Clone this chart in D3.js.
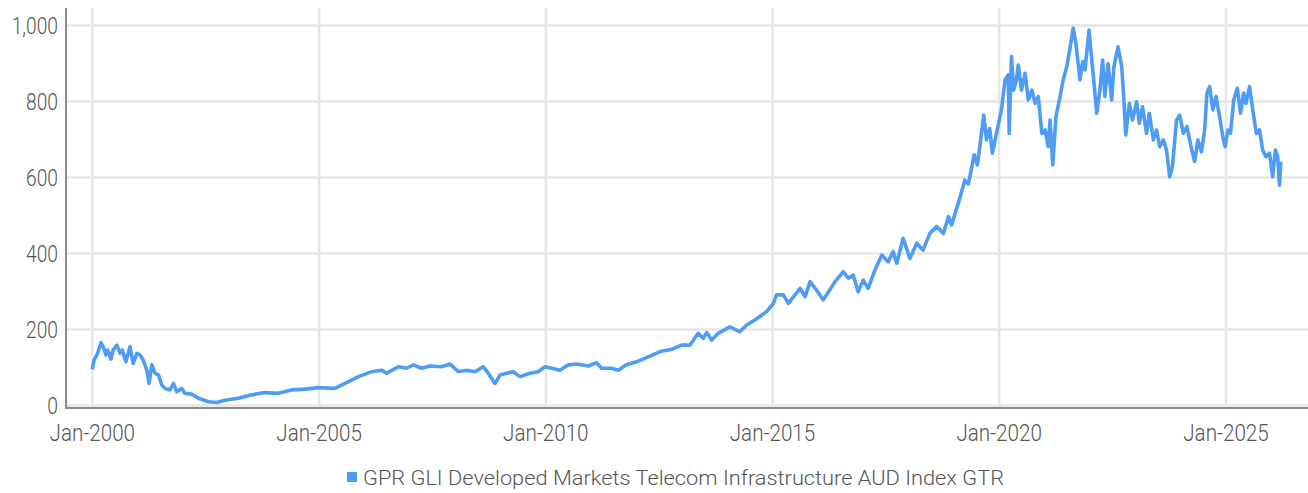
<!DOCTYPE html>
<html>
<head>
<meta charset="utf-8">
<script src="https://cdn.jsdelivr.net/npm/d3@7"></script>
<style>
  body { margin: 0; background: #fff; }
  svg text { font-family: Roboto, "DejaVu Sans Condensed", sans-serif; font-weight: 300; fill: #555; }
</style>
</head>
<body>
<div id="chart"></div>
<script>
// decimal years
const years = [
  2000.00, 2000.04, 2000.12, 2000.19, 2000.24, 2000.30, 2000.34, 2000.41, 2000.46, 2000.54,
  2000.61, 2000.66, 2000.74, 2000.83, 2000.90, 2000.98, 2001.05, 2001.12, 2001.20, 2001.25,
  2001.31, 2001.38, 2001.46, 2001.53, 2001.60, 2001.71, 2001.79, 2001.86, 2001.97, 2002.04,
  2002.19, 2002.34, 2002.56, 2002.74, 2002.93, 2003.22, 2003.51, 2003.81, 2004.10, 2004.40,
  2004.69, 2004.98, 2005.35, 2005.65, 2005.87, 2006.16, 2006.38, 2006.49, 2006.75, 2006.93,
  2007.08, 2007.26, 2007.45, 2007.70, 2007.89, 2008.07, 2008.26, 2008.44, 2008.62, 2008.73,
  2008.88, 2008.99, 2009.14, 2009.28, 2009.43, 2009.65, 2009.83, 2009.98, 2010.13, 2010.31,
  2010.50, 2010.68, 2010.94, 2011.12, 2011.23, 2011.45, 2011.60, 2011.78, 2012.00, 2012.26,
  2012.52, 2012.78, 2013.00, 2013.18, 2013.36, 2013.47, 2013.55, 2013.66, 2013.80, 2014.06,
  2014.28, 2014.43, 2014.61, 2014.87, 2015.02, 2015.09, 2015.24, 2015.35, 2015.61, 2015.72,
  2015.83, 2015.97, 2016.12, 2016.38, 2016.56, 2016.67, 2016.78, 2016.89, 2017.00, 2017.11,
  2017.26, 2017.41, 2017.55, 2017.66, 2017.74, 2017.88, 2018.03, 2018.18, 2018.32, 2018.47,
  2018.62, 2018.77, 2018.88, 2018.95, 2019.13, 2019.24, 2019.32, 2019.45, 2019.52, 2019.66,
  2019.72, 2019.79, 2019.85, 2019.94, 2020.05, 2020.13, 2020.20, 2020.22, 2020.27, 2020.32,
  2020.38, 2020.42, 2020.49, 2020.57, 2020.64, 2020.72, 2020.79, 2020.86, 2020.94, 2021.01,
  2021.08, 2021.12, 2021.18, 2021.25, 2021.34, 2021.41, 2021.49, 2021.56, 2021.63, 2021.69,
  2021.78, 2021.84, 2021.89, 2021.98, 2022.04, 2022.09, 2022.15, 2022.22, 2022.28, 2022.33,
  2022.40, 2022.48, 2022.53, 2022.62, 2022.70, 2022.75, 2022.79, 2022.87, 2022.94, 2023.03,
  2023.09, 2023.16, 2023.25, 2023.31, 2023.40, 2023.47, 2023.54, 2023.62, 2023.69, 2023.76,
  2023.82, 2023.91, 2023.98, 2024.06, 2024.14, 2024.23, 2024.31, 2024.38, 2024.46, 2024.53,
  2024.58, 2024.64, 2024.71, 2024.78, 2024.86, 2024.93, 2024.98, 2025.04, 2025.10, 2025.17,
  2025.25, 2025.32, 2025.39, 2025.44, 2025.52, 2025.59, 2025.67, 2025.74, 2025.81, 2025.88,
  2025.96, 2026.03, 2026.09, 2026.14, 2026.18, 2026.21
];

const values = [
  95, 120, 138, 165, 155, 133, 146, 122, 146, 159,
  138, 146, 115, 155, 111, 137, 133, 120, 93, 58,
  107, 85, 80, 54, 45, 41, 58, 36, 45, 32,
  30, 19, 10, 8, 14, 19, 28, 34, 32, 41,
  43, 47, 45, 63, 76, 89, 93, 85, 102, 98,
  107, 98, 104, 102, 109, 89, 93, 89, 102, 85,
  58, 80, 85, 89, 76, 85, 89, 102, 98, 93,
  107, 109, 104, 113, 98, 98, 93, 107, 115, 128,
  142, 148, 159, 159, 190, 177, 192, 172, 190, 207,
  194, 212, 225, 247, 269, 291, 291, 269, 308, 286,
  326, 304, 278, 326, 352, 335, 343, 299, 330, 308,
  357, 396, 378, 405, 374, 440, 387, 427, 409, 453,
  471, 453, 497, 475, 545, 593, 583, 660, 633, 764,
  699, 729, 664, 716, 778, 857, 870, 716, 918, 830,
  857, 896, 830, 874, 804, 830, 795, 813, 716, 725,
  681, 751, 633, 760, 813, 857, 892, 940, 993, 953,
  857, 905, 883, 988, 909, 848, 769, 830, 909, 813,
  900, 804, 892, 944, 892, 804, 712, 795, 751, 799,
  743, 786, 716, 769, 699, 725, 681, 699, 672, 602,
  628, 751, 764, 716, 734, 681, 642, 699, 668, 725,
  822, 839, 778, 813, 760, 707, 681, 725, 716, 804,
  835, 769, 822, 795, 839, 778, 716, 725, 672, 655,
  664, 602, 672, 655, 580, 642
];

const yTicks = [0, 200, 400, 600, 800, 1000];
const xTickYears = [2000, 2005, 2010, 2015, 2020, 2025];
const seriesName = "GPR GLI Developed Markets Telecom Infrastructure AUD Index GTR";

const width = 1308, height = 493;
const margin = {left: 66, right: 1308, top: 8, bottom: 408};

function toDate(y) {
  const yr = Math.floor(y);
  const start = Date.UTC(yr, 0, 1), end = Date.UTC(yr + 1, 0, 1);
  return new Date(start + (y - yr) * (end - start));
}

// squeeze text horizontally, the reference uses a condensed face
function condense(sel, k) {
  sel.each(function() {
    const w = this.getComputedTextLength();
    d3.select(this).attr("textLength", w * k).attr("lengthAdjust", "spacingAndGlyphs");
  });
}

const data = years.map((y, i) => ({date: toDate(y), value: values[i]}));

const svg = d3.select("#chart")
  .append("svg")
  .attr("width", width)
  .attr("height", height);

const x = d3.scaleUtc()
  .domain([toDate(2000), toDate(2025)])
  .range([92.3, 1226]);
const y = d3.scaleLinear().domain([0, 1000]).range([405.5, 25.5]);

// gridlines
svg.append("g")
  .selectAll("line")
  .data(xTickYears)
  .join("line")
  .attr("x1", d => x(toDate(d))).attr("x2", d => x(toDate(d)))
  .attr("y1", margin.top).attr("y2", margin.bottom)
  .attr("stroke", "#e6e6e6").attr("stroke-width", 2.5);

svg.append("g")
  .selectAll("line")
  .data(yTicks)
  .join("line")
  .attr("x1", margin.left).attr("x2", margin.right)
  .attr("y1", d => y(d)).attr("y2", d => y(d))
  .attr("stroke", "#e6e6e6").attr("stroke-width", 2.5);

// series
svg.append("path")
  .datum(data)
  .attr("fill", "none")
  .attr("stroke", "#4f9cf5")
  .attr("stroke-width", 3.6)
  .attr("stroke-linejoin", "round")
  .attr("d", d3.line().x(d => x(d.date)).y(d => y(d.value)));

// axis lines
svg.append("line")
  .attr("x1", margin.left).attr("x2", margin.left)
  .attr("y1", margin.top).attr("y2", margin.bottom + 1)
  .attr("stroke", "#8a8a8a").attr("stroke-width", 2);
svg.append("line")
  .attr("x1", margin.left).attr("x2", margin.right)
  .attr("y1", margin.bottom).attr("y2", margin.bottom)
  .attr("stroke", "#8a8a8a").attr("stroke-width", 2);

// tick labels
const fmt = d3.format(",");
svg.append("g")
  .selectAll("text")
  .data(yTicks)
  .join("text")
  .attr("x", 58)
  .attr("y", d => y(d))
  .attr("dy", "0.35em")
  .attr("text-anchor", "end")
  .attr("font-size", 24)
  .text(d => fmt(d))
  .call(condense, 0.8);

svg.append("g")
  .selectAll("text")
  .data(xTickYears)
  .join("text")
  .attr("x", d => x(toDate(d)))
  .attr("y", 441)
  .attr("text-anchor", "middle")
  .attr("font-size", 24)
  .text(d => d3.utcFormat("%b-%Y")(toDate(d)))
  .call(condense, 0.86);

// legend
const legend = svg.append("g");
legend.append("rect")
  .attr("x", 347).attr("y", 472).attr("width", 10).attr("height", 10)
  .attr("fill", "#4f9cf5");
legend.append("text")
  .attr("x", 363).attr("y", 485)
  .attr("font-size", 20)
  .text(seriesName)
  .attr("textLength", 641)
  .attr("lengthAdjust", "spacingAndGlyphs");
</script>
</body>
</html>
